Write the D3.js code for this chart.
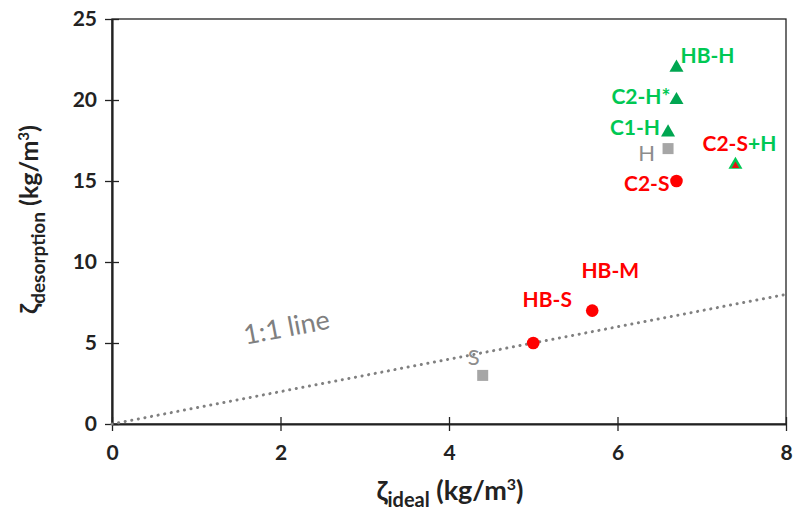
<!DOCTYPE html>
<html lang="en">
<head>
    <meta charset="UTF-8">
    <script src="https://d3js.org/d3.v7.min.js"></script>
    <title>zeta</title>
    <style>
        body { margin: 0; background: #fff; }
        text { font-family: Lato, "Open Sans", sans-serif; }
    </style>
</head>
<body>
    <script>
        // sample values
        var names  = ["HB-H", "C2-H*", "C1-H", "H", "C2-S", "C2-S+H", "HB-M", "HB-S", "S"];
        var xIdeal = [6.7, 6.7, 6.6, 6.6, 6.7, 7.4, 5.7, 5.0, 4.4];
        var yDes   = [22, 20, 18, 17, 15, 16, 7, 5, 3];
        var kinds  = ["tri", "tri", "tri", "sq", "dot", "mix", "dot", "dot", "sq"];
        var xTicks = [0, 2, 4, 6, 8];
        var yTicks = [0, 5, 10, 15, 20, 25];
        var oneToOne = [[0, 0], [8, 8]];

        var green = "#00c853", red = "#ff0000", grey = "#a6a6a6";

        // label placement, pixels relative to the point
        var labelPos = {
            "HB-H":   { dx: 4,   dy: -12, anchor: "start" },
            "C2-H*":  { dx: -6,  dy: -3,  anchor: "end" },
            "C1-H":   { dx: -8,  dy: -5,  anchor: "end" },
            "H":      { dx: -13, dy: 5,   anchor: "end" },
            "C2-S":   { dx: -7,  dy: 3,   anchor: "end" },
            "C2-S+H": { dx: 4,   dy: -21, anchor: "middle" },
            "HB-M":   { dx: 18,  dy: -40, anchor: "middle" },
            "HB-S":   { dx: 14,  dy: -43, anchor: "middle" },
            "S":      { dx: -9,  dy: -18, anchor: "middle" }
        };

        var W = 794, H = 522;
        var m = { left: 112, right: 8, top: 19, bottom: 98 };

        var svg = d3.select("body").append("svg")
            .attr("width", W)
            .attr("height", H);

        var x = d3.scaleLinear().domain([0, 8]).range([m.left, W - m.right]);
        var y = d3.scaleLinear().domain([0, 25]).range([H - m.bottom, m.top]);

        // frame
        svg.append("rect")
            .attr("x", x(0)).attr("y", y(25))
            .attr("width", x(8) - x(0)).attr("height", y(0) - y(25))
            .attr("fill", "none").attr("stroke", "#222").attr("stroke-width", 1.3);

        var xAxis = svg.append("g")
            .attr("transform", "translate(0," + y(0) + ")")
            .call(d3.axisBottom(x).tickValues(xTicks).tickSize(0).tickPadding(21).tickFormat(d3.format("d")));
        xAxis.selectAll(".tick").append("line").attr("y1", -7).attr("y2", 7).attr("stroke", "#222").attr("stroke-width", 1.3);

        var yAxis = svg.append("g")
            .attr("transform", "translate(" + x(0) + ",0)")
            .call(d3.axisLeft(y).tickValues(yTicks).tickSize(0).tickPadding(15).tickFormat(d3.format("d")));
        yAxis.selectAll(".tick").append("line").attr("x1", -7).attr("x2", 7).attr("stroke", "#222").attr("stroke-width", 1.3);

        svg.selectAll(".domain").attr("stroke", "#222").attr("stroke-width", 2.2);
        svg.selectAll(".tick text")
            .attr("font-size", 21).attr("font-weight", "bold").attr("fill", "#222")
            .style("font-family", "Lato, 'Open Sans', sans-serif");

        // 1:1 line
        svg.append("path")
            .datum(oneToOne)
            .attr("d", d3.line().x(function(d) { return x(d[0]); }).y(function(d) { return y(d[1]); }))
            .attr("fill", "none")
            .attr("stroke", "#808080")
            .attr("stroke-width", 3)
            .attr("stroke-linecap", "round")
            .attr("stroke-dasharray", "0.1,6.6");

        var ang = Math.atan2(y(8) - y(0), x(8) - x(0)) * 180 / Math.PI;
        svg.append("text")
            .attr("transform", "translate(" + x(2.07) + "," + y(5.97) + ") rotate(" + ang + ")")
            .attr("text-anchor", "middle")
            .attr("dy", "0.35em")
            .attr("font-size", 27)
            .attr("fill", "#808080")
            .text("1:1 line");

        // points
        var pts = names.map(function(n, i) {
            return { name: n, x: xIdeal[i], y: yDes[i], kind: kinds[i] };
        });

        var tri = d3.symbol().type(d3.symbolTriangle);
        var g = svg.selectAll(".pt").data(pts).enter().append("g")
            .attr("class", "pt")
            .attr("transform", function(d) { return "translate(" + x(d.x) + "," + y(d.y) + ")"; });

        g.filter(function(d) { return d.kind === "tri" || d.kind === "mix"; })
            .append("path")
            .attr("d", tri.size(85))
            .attr("fill", function(d) { return d.kind === "mix" ? "#00c853" : "#00a651"; });
        g.filter(function(d) { return d.kind === "mix"; })
            .append("path")
            .attr("d", d3.symbol().type(d3.symbolTriangle).size(24))
            .attr("transform", "translate(0,1)")
            .attr("fill", "#e81010");
        g.filter(function(d) { return d.kind === "dot"; })
            .append("circle").attr("r", 6.3).attr("fill", red);
        g.filter(function(d) { return d.kind === "sq"; })
            .append("rect").attr("x", -5.5).attr("y", -5.5).attr("width", 11).attr("height", 11)
            .attr("fill", grey);

        // labels
        function labelColor(n) {
            if (n === "H" || n === "S") return "#8c8c8c";
            if (n.indexOf("S") >= 0 || n.indexOf("M") >= 0) return red;
            return green;
        }
        var lab = g.append("text")
            .attr("x", function(d) { return labelPos[d.name].dx; })
            .attr("y", function(d) { return labelPos[d.name].dy; })
            .attr("dy", "0.35em")
            .attr("text-anchor", function(d) { return labelPos[d.name].anchor; })
            .attr("font-size", function(d) { return (d.name === "H" || d.name === "S") ? 22 : 21; })
            .attr("font-weight", function(d) { return (d.name === "H" || d.name === "S") ? "normal" : "bold"; })
            .attr("fill", function(d) { return labelColor(d.name); });
        lab.each(function(d) {
            var t = d3.select(this);
            if (d.name === "C2-S+H") {
                t.append("tspan").attr("fill", red).text("C2-S");
                t.append("tspan").attr("fill", green).text("+H");
            } else {
                t.text(d.name);
            }
        });

        // axis titles
        var xt = svg.append("text")
            .attr("x", (x(0) + x(8)) / 2 + 1).attr("y", 500)
            .attr("text-anchor", "middle")
            .attr("font-size", 27).attr("font-weight", "bold").attr("fill", "#222");
        xt.append("tspan").text("ζ");
        xt.append("tspan").attr("font-size", 20).attr("dy", 7).text("ideal");
        xt.append("tspan").attr("dy", -7).text(" (kg/m");
        xt.append("tspan").attr("font-size", 16).attr("dy", -10).text("3");
        xt.append("tspan").attr("dy", 10).text(")");

        var yt = svg.append("text")
            .attr("transform", "translate(38," + (y(12.5) - 2) + ") rotate(-90)")
            .attr("text-anchor", "middle")
            .attr("font-size", 25).attr("font-weight", "bold").attr("fill", "#222");
        yt.append("tspan").text("ζ");
        yt.append("tspan").attr("font-size", 19).attr("dy", 7).text("desorption");
        yt.append("tspan").attr("dy", -7).text(" (kg/m");
        yt.append("tspan").attr("font-size", 15).attr("dy", -9).text("3");
        yt.append("tspan").attr("dy", 9).text(")");
    </script>
</body>
</html>
